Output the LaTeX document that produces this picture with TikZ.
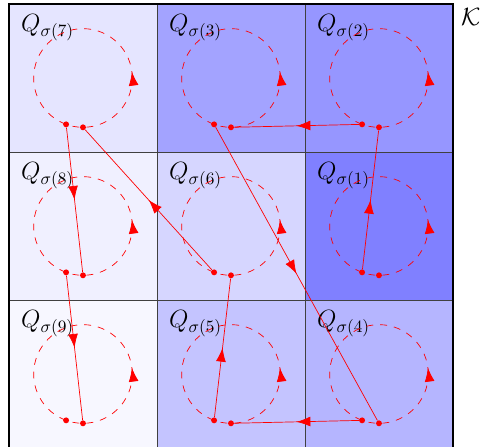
\documentclass[tikz,border=0pt]{standalone}
\usepackage{amsmath,amssymb}
\usepackage{xcolor}
\usetikzlibrary{arrows.meta,decorations.markings}

\begin{document}
\begin{tikzpicture}[
  loopline/.style={red, dash pattern=on 4pt off 4pt, postaction={decorate},
    decoration={markings, mark=at position 0.02 with {\arrow{Latex[length=2.8mm,width=2mm]}}}},
  link/.style={red, postaction={decorate},
    decoration={markings, mark=at position 0.5 with {\arrow{Latex[length=2.8mm,width=2mm]}}}},
  dot/.style={circle, fill=red, inner sep=0pt, minimum size=3.4pt},
  ]
  \useasboundingbox (-0.182,0.04) rectangle (9.568,9.081);
  % cells, one per sigma(k)
  \foreach \k/\c/\r/\p in {7/0/0/10, 3/1/0/36, 2/2/0/41, 8/0/1/6, 6/1/1/16,
                           1/2/1/50, 9/0/2/3, 5/1/2/23, 4/2/2/29} {
    \filldraw[fill=blue!\p, draw=black!75] (3*\c,9-3*\r) rectangle ++(3,-3);
    \coordinate (c\k) at (3*\c+1.5,7.5-3*\r);
    \node[anchor=north west, inner sep=0pt] (q\k) at (3*\c+0.24,8.79-3*\r)
      {\Large $Q_{\sigma(\k)}$};
    \draw[loopline] (c\k) circle (1);
    \node[dot] (in\k) at ([shift={(270:1)}]c\k) {};
    \node[dot] (out\k) at ([shift={(250:1)}]c\k) {};
  }
  \draw[thick] (0,0) rectangle (9,9);
  \node[anchor=north west, inner sep=0pt] (kk) at (9.16,8.92) {\Large $\mathcal{K}$};
  % the path through the cells
  \draw[link] (out1) -- (in2);
  \draw[link] (out2) -- (in3);
  \draw[link] (out3) -- (in4);
  \draw[link] (out4) -- (in5);
  \draw[link] (out5) -- (in6);
  \draw[link] (out6) -- (in7);
  \draw[link] (out7) -- (in8);
  \draw[link] (out8) -- (in9);
\end{tikzpicture}
\end{document}
